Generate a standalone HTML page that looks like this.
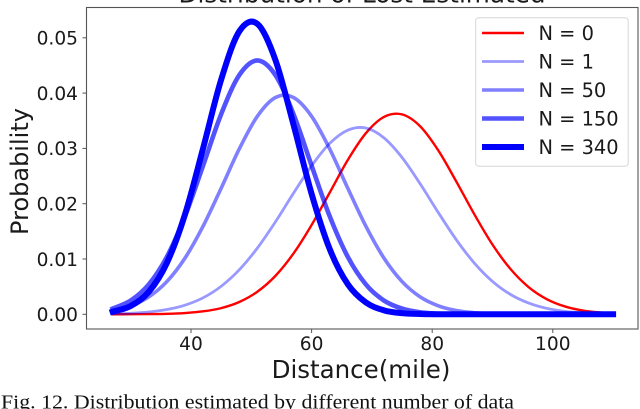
<!DOCTYPE html>
<html>
<head>
<meta charset="utf-8">
<style>
html,body{margin:0;padding:0;background:#fff;width:640px;height:409px;overflow:hidden}
svg{display:block;filter:blur(0.35px)}
text{font-family:"DejaVu Sans",sans-serif;fill:#1a1a1a}
</style>
</head>
<body>
<svg id="chart" xmlns="http://www.w3.org/2000/svg" width="640" height="409" viewBox="0 0 640 409">
<text x="362" y="2.5" text-anchor="middle" font-size="24.7">Distribution of Lost Estimated</text>
<rect x="86.5" y="7.5" width="551.5" height="321.5" fill="#fff" stroke="none"/>
<g id="marks"></g>
<rect x="86.5" y="7.5" width="551.5" height="321.5" fill="none" stroke="#555" stroke-width="1.1"/>
<g id="ticks"></g>
<text transform="translate(28,171.5) rotate(-90)" text-anchor="middle" font-size="24">Probability</text>
<text x="361" y="378" text-anchor="middle" font-size="24.5">Distance(mile)</text>
<g>
<rect x="475.7" y="17.7" width="152.5" height="148.5" rx="3" fill="#fff" fill-opacity="0.9" stroke="#d6d6d6" stroke-width="1"/>
<g id="legend-entries"></g>
</g>
<text x="1" y="408.5" font-size="20" textLength="513" lengthAdjust="spacingAndGlyphs" style="font-family:'Liberation Serif',serif;fill:#111">Fig. 12. Distribution estimated by different number of data</text>
</svg>
<script>
const distances = [27,30,33,36,39,42,45,48,51,54,57,60,63,66,69,72,75,78,81,84,87,90,93,96,99,102,105,108,110];
const probN0 = [0.000004,0.000012,0.000035,0.00009,0.00023,0.00053,0.00112,0.00222,0.00408,0.00695,0.0110,0.01615,0.0220,0.0279,0.03275,0.0357,0.03615,0.034,0.02965,0.024,0.01806,0.0126,0.00817,0.00491,0.00274,0.00142,0.00068,0.00031,0.00017];
const probN1 = [0.00008,0.00019,0.00042,0.00086,0.00165,0.00298,0.00506,0.00804,0.01197,0.01672,0.0219,0.02685,0.0309,0.0333,0.03368,0.0319,0.02835,0.0236,0.01842,0.01348,0.00925,0.00595,0.00358,0.00203,0.00107,0.00053,0.00025,0.00011,0.00006];
const probN50 = [0.00068,0.00154,0.00315,0.00592,0.01016,0.01593,0.0228,0.0299,0.0358,0.0392,0.0392,0.0358,0.0299,0.0228,0.01593,0.01016,0.00592,0.00315,0.00154,0.00068,0.00028,0.0001,0.00004,0.00001,0,0,0,0,0];
const probN150 = [0.00103,0.00249,0.0054,0.01039,0.01774,0.02688,0.03619,0.04325,0.0459,0.04325,0.03619,0.02688,0.01774,0.01039,0.0054,0.00249,0.00103,0.00037,0.00012,0.00003,0.00001,0,0,0,0,0,0,0,0];
const probN340 = [0.00048,0.00151,0.00406,0.00929,0.01806,0.03,0.04244,0.05115,0.05253,0.04598,0.03428,0.02178,0.0118,0.00544,0.00214,0.00072,0.0002,0.00005,0.00001,0,0,0,0,0,0,0,0,0,0];
const seriesLabels = ['N = 0','N = 1','N = 50','N = 150','N = 340'];
const xTickValues = [40,60,80,100];
const yTickValues = [0,0.01,0.02,0.03,0.04,0.05];

const NS = 'http://www.w3.org/2000/svg';
const allSeries = [probN0, probN1, probN50, probN150, probN340];
const seriesStyles = [
  {color:'#ff0000', opacity:1, width:2.4},
  {color:'#0000ff', opacity:0.4, width:2.8},
  {color:'#0000ff', opacity:0.5, width:3.6},
  {color:'#0000ff', opacity:0.68, width:4.6},
  {color:'#0000ff', opacity:1, width:6}
];
function xScale(v){ return 191 + (v - 40) * 6.03; }
function yScale(v){ return 314.3 - v * 5530; }
function make(tag, attrs, parent){
  const el = document.createElementNS(NS, tag);
  for (const k in attrs) el.setAttribute(k, attrs[k]);
  parent.appendChild(el);
  return el;
}
function curvePath(xs, ys){
  const p = xs.map((x, i) => [xScale(x), yScale(ys[i])]);
  let d = 'M' + p[0][0].toFixed(2) + ',' + p[0][1].toFixed(2);
  for (let i = 0; i < p.length - 1; i++) {
    const a = p[Math.max(i - 1, 0)], b = p[i], c = p[i + 1], e = p[Math.min(i + 2, p.length - 1)];
    const c1x = b[0] + (c[0] - a[0]) / 6, c1y = b[1] + (c[1] - a[1]) / 6;
    const c2x = c[0] - (e[0] - b[0]) / 6, c2y = c[1] - (e[1] - b[1]) / 6;
    d += 'C' + c1x.toFixed(2) + ',' + c1y.toFixed(2) + ' ' + c2x.toFixed(2) + ',' + c2y.toFixed(2) + ' ' + c[0].toFixed(2) + ',' + c[1].toFixed(2);
  }
  return d;
}
const marks = document.getElementById('marks');
allSeries.forEach((ys, i) => {
  const s = seriesStyles[i];
  const path = make('path', {d: curvePath(distances, ys), fill: 'none', stroke: s.color, 'stroke-opacity': s.opacity, 'stroke-width': s.width, 'stroke-linejoin': 'round', 'stroke-linecap': 'square'}, marks);
  
  
});
const ticks = document.getElementById('ticks');
xTickValues.forEach(v => {
  const px = xScale(v);
  const mark = make('line', {x1: px, x2: px, y1: 329, y2: 333, stroke: '#555', 'stroke-width': 1}, ticks);
  
  
  const label = make('text', {x: px, y: 350, 'text-anchor': 'middle', 'font-size': 18.6}, ticks);
  label.textContent = String(v);
  
  
});
yTickValues.forEach(v => {
  const py = yScale(v);
  const mark = make('line', {x1: 82.5, x2: 86.5, y1: py, y2: py, stroke: '#555', 'stroke-width': 1}, ticks);
  
  
  const label = make('text', {x: 78, y: py + 6.8, 'text-anchor': 'end', 'font-size': 18.6}, ticks);
  label.textContent = v.toFixed(2);
  
  
});
const legendEntries = document.getElementById('legend-entries');
seriesLabels.forEach((name, i) => {
  const s = seriesStyles[i];
  const ly = 33 + i * 28.5;
  const swatch = make('line', {x1: 482, x2: 524, y1: ly, y2: ly, stroke: s.color, 'stroke-opacity': s.opacity, 'stroke-width': s.width}, legendEntries);
  
  
  const label = make('text', {x: 538.5, y: ly + 7, 'font-size': 19.4}, legendEntries);
  label.textContent = name;
  
  
});
</script>
</body>
</html>
